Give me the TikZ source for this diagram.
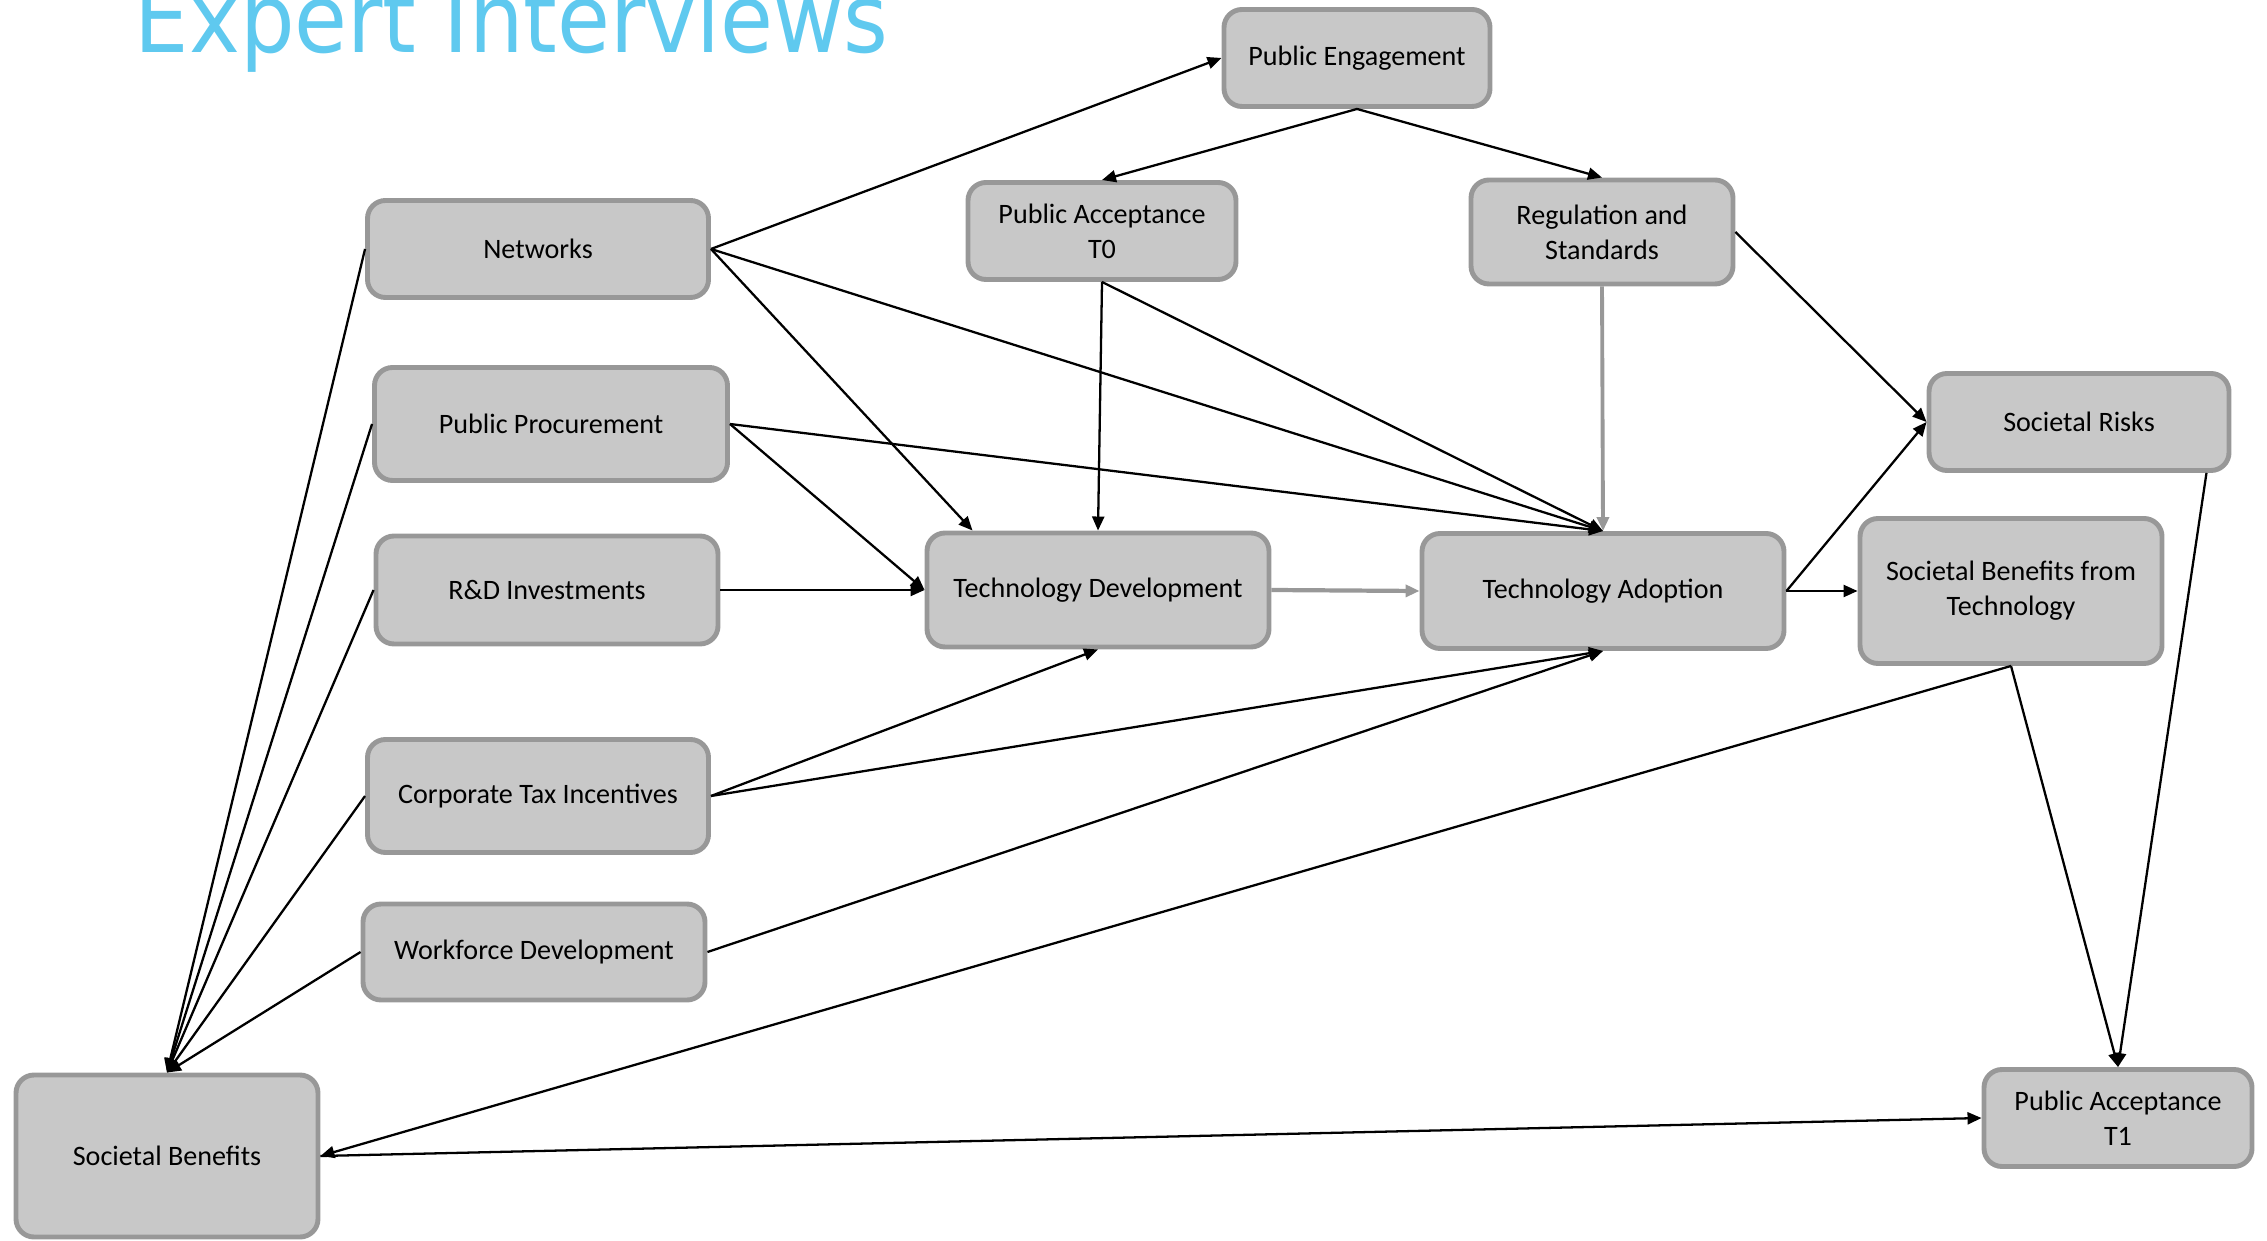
\documentclass[tikz,border=0pt]{standalone}
\usepackage{fontspec}
\setmainfont{Carlito}
\newfontfamily\titlefont[FakeStretch=0.9]{DejaVu Sans}
\usetikzlibrary{arrows.meta,calc}
\definecolor{boxfill}{HTML}{C8C8C8}
\definecolor{boxline}{HTML}{989898}
\definecolor{titleblue}{HTML}{5FC9EF}
\begin{document}
\begin{tikzpicture}[x=0.1mm,y=-0.1mm,
  box/.style={draw=boxline, fill=boxfill, line width=1.4pt, rounded corners=1.8mm,
    align=center, inner sep=0pt, font=\fontsize{8}{9.9}\selectfont},
  arr/.style={-{Triangle[length=1.4mm,width=1.2mm]}, line width=0.65pt, draw=black},
  garr/.style={-{Triangle[length=1.4mm,width=1.2mm]}, draw=boxline}]
\useasboundingbox (0,0) rectangle (2267,1241);
\clip (0,0) rectangle (2267,1241);

\node[anchor=base west, text=titleblue, inner sep=0pt,
  font=\titlefont\fontsize{27.2}{30}\selectfont] (title) at (134,53) {Expert Interviews};

\node[box, minimum width=26.6mm, minimum height=9.7mm] (pe) at (1357,58) {Public Engagement};
\node[box, minimum width=34.1mm, minimum height=9.7mm] (net) at (538,249) {Networks};
\node[box, minimum width=26.8mm, minimum height=9.7mm] (pa0) at (1102,231) {Public Acceptance\\T0};
\node[box, minimum width=26.2mm, minimum height=10.4mm] (reg) at (1602,232) {Regulation and\\Standards};
\node[box, minimum width=35.3mm, minimum height=11.3mm] (pp) at (551,424) {Public Procurement};
\node[box, minimum width=34.2mm, minimum height=10.8mm] (rd) at (547,590) {R\&D Investments};
\node[box, minimum width=34.2mm, minimum height=11.4mm] (td) at (1098,590) {Technology Development};
\node[box, minimum width=36.2mm, minimum height=11.5mm] (ta) at (1603,591) {Technology Adoption};
\node[box, minimum width=30.0mm, minimum height=9.7mm] (sr) at (2079,422) {Societal Risks};
\node[box, minimum width=30.2mm, minimum height=14.5mm] (sbt) at (2011,591) {Societal Benefits from\\Technology};
\node[box, minimum width=34.1mm, minimum height=11.3mm] (cti) at (538,796) {Corporate Tax Incentives};
\node[box, minimum width=34.2mm, minimum height=9.6mm] (wd) at (534,952) {Workforce Development};
\node[box, minimum width=30.2mm, minimum height=16.2mm] (sb) at (167,1156) {Societal Benefits};
\node[box, minimum width=26.8mm, minimum height=9.7mm] (pa1) at (2118,1118) {Public Acceptance\\T1};

% connectors
\draw[arr] (net.east) -- (pe.west);
\draw[arr] (pe.south) -- (pa0.north);
\draw[arr] (pe.south) -- (reg.north);
\draw[arr] (net.east) -- ([xshift=4.8mm]td.north west);
\draw[arr] (net.east) -- (ta.north);
\draw[arr] (pa0.south) -- (td.north);
\draw[arr] (pa0.south) -- (ta.north);
\draw[garr, line width=1.1pt] (reg.south) -- (ta.north);
\draw[arr] (reg.east) -- (sr.west);
\draw[arr] (pp.east) -- (ta.north);
\draw[arr] (pp.east) -- (td.west);
\draw[arr] (rd.east) -- (td.west);
\draw[garr, line width=1.2pt] (td.east) -- (ta.west);
\draw[arr] (cti.east) -- (td.south);
\draw[arr] (cti.east) -- (ta.south);
\draw[arr] (wd.east) -- (ta.south);
\draw[arr] (ta.east) -- (sr.west);
\draw[arr] (ta.east) -- (sbt.west);
\draw[arr] (sbt.south) -- (sb.east);
\draw[arr] (sbt.south) -- (pa1.north);
\draw[arr] ([xshift=-2.5mm]sr.south east) -- (pa1.north);
\draw[arr] (sb.east) -- (pa1.west);
\draw[arr] (net.west) -- (sb.north);
\draw[arr] (pp.west) -- (sb.north);
\draw[arr] (rd.west) -- (sb.north);
\draw[arr] (cti.west) -- (sb.north);
\draw[arr] (wd.west) -- (sb.north);
\end{tikzpicture}
\end{document}
